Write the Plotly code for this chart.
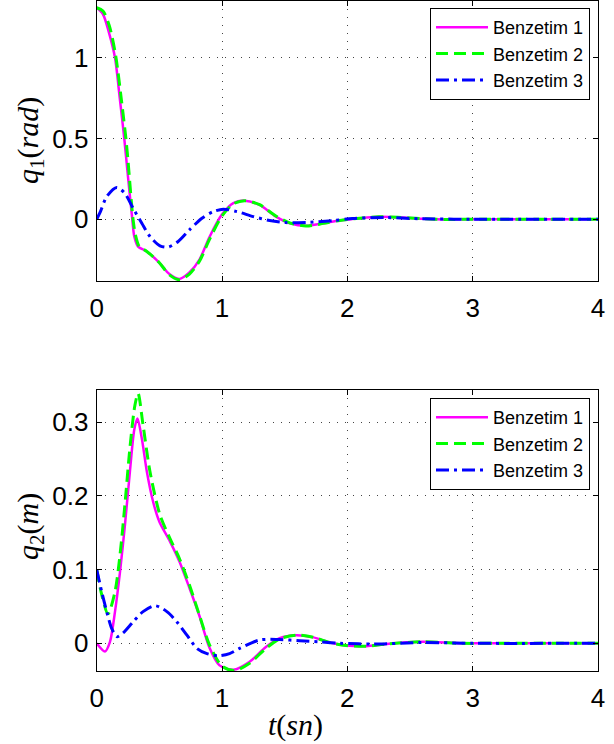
import plotly.graph_objects as go

# q1 (top panel)
t1_b1 = [0, 0.05, 0.1, 0.146, 0.183, 0.22, 0.25, 0.284, 0.3, 0.33, 0.4, 0.5, 0.58, 0.66, 0.74, 0.82,
         0.9, 1.0, 1.09, 1.18, 1.3, 1.43, 1.54, 1.67, 1.81, 1.94, 2.1, 2.25, 2.4, 2.6, 2.8, 3.0, 3.5, 4.0]
q1_b1 = [1.31, 1.27, 1.15, 1.0, 0.757, 0.5, 0.26, 0.0, -0.107, -0.17, -0.20, -0.27, -0.34, -0.37, -0.33, -0.25,
         -0.11, 0.03, 0.10, 0.115, 0.088, 0.016, -0.025, -0.041, -0.025, -0.008, 0.006, 0.015, 0.012, 0.003, -0.002, 0.0, 0.0, 0.0]

t1_b2 = [0, 0.05, 0.1, 0.15, 0.2, 0.233, 0.25, 0.29, 0.31, 0.34, 0.4, 0.5, 0.58, 0.66, 0.74, 0.82,
         0.9, 1.0, 1.09, 1.18, 1.3, 1.43, 1.54, 1.67, 1.81, 1.94, 2.1, 2.25, 2.4, 2.6, 2.8, 3.0, 3.5, 4.0]
q1_b2 = [1.31, 1.29, 1.20, 1.02, 0.72, 0.5, 0.36, 0.0, -0.10, -0.17, -0.20, -0.27, -0.345, -0.375, -0.34, -0.26,
         -0.125, 0.02, 0.095, 0.115, 0.09, 0.02, -0.023, -0.042, -0.026, -0.008, 0.006, 0.015, 0.012, 0.003, -0.002, 0.0, 0.0, 0.0]

t1_b3 = [0, 0.026, 0.08, 0.16, 0.225, 0.29, 0.36, 0.425, 0.505, 0.57, 0.65, 0.74, 0.84, 0.93, 1.01,
         1.12, 1.25, 1.38, 1.51, 1.70, 1.885, 2.04, 2.31, 2.6, 3.0, 4.0]
q1_b3 = [0, 0.04, 0.14, 0.197, 0.16, 0.068, -0.025, -0.107, -0.165, -0.173, -0.138, -0.066, 0.006, 0.047, 0.062,
         0.047, 0.016, -0.008, -0.021, -0.019, -0.009, 0.004, 0.01, 0.002, 0.0, 0.0]

# q2 (bottom panel)
t2_b1 = [0, 0.066, 0.106, 0.146, 0.186, 0.225, 0.265, 0.30, 0.325, 0.36, 0.40, 0.45, 0.50, 0.585, 0.66, 0.74,
         0.82, 0.90, 0.98, 1.09, 1.22, 1.35, 1.46, 1.59, 1.73, 1.86, 1.99, 2.15, 2.31, 2.6, 2.9, 3.2, 4.0]
q2_b1 = [0, -0.011, 0.002, 0.043, 0.097, 0.16, 0.233, 0.29, 0.305, 0.278, 0.233, 0.192, 0.165, 0.138, 0.111, 0.075,
         0.037, -0.006, -0.03, -0.036, -0.025, -0.005, 0.007, 0.011, 0.008, 0.001, -0.003, -0.004, -0.001, 0.002, 0.0, 0.0, 0.0]

t2_b2 = [0, 0.04, 0.09, 0.146, 0.186, 0.225, 0.265, 0.305, 0.33, 0.37, 0.425, 0.505, 0.585, 0.66, 0.74, 0.82,
         0.90, 1.0, 1.1, 1.22, 1.35, 1.46, 1.6, 1.73, 1.86, 1.99, 2.15, 2.31, 2.6, 2.9, 3.2, 4.0]
q2_b2 = [0.1, 0.066, 0.04, 0.07, 0.12, 0.188, 0.265, 0.323, 0.339, 0.296, 0.233, 0.174, 0.142, 0.115, 0.079, 0.038,
         -0.002, -0.031, -0.037, -0.027, -0.007, 0.006, 0.011, 0.008, 0.001, -0.003, -0.004, -0.001, 0.002, 0.0, 0.0, 0.0]

t2_b3 = [0, 0.04, 0.08, 0.12, 0.16, 0.21, 0.29, 0.37, 0.465, 0.56, 0.64, 0.72, 0.80, 0.88, 0.97, 1.06,
         1.14, 1.30, 1.46, 1.62, 1.78, 1.94, 2.2, 2.6, 3.0, 4.0]
q2_b3 = [0.1, 0.07, 0.043, 0.02, 0.009, 0.014, 0.029, 0.043, 0.051, 0.043, 0.029, 0.011, -0.007, -0.014, -0.017, -0.014,
         -0.007, 0.0045, 0.005, 0.0035, 0.002, 0.0, -0.001, 0.001, 0.0, 0.0]

names = ["Benzetim 1", "Benzetim 2", "Benzetim 3"]
colors = ["#ff00ff", "#00ff00", "#0000ff"]
dashes = ["solid", "12px,6px", "13px,5px,3px,5px"]
widths = [2.5, 3, 3]

W, H = 614, 744
fig = go.Figure(layout=dict(width=W, height=H))

panels = [
    ((t1_b1, q1_b1), (t1_b2, q1_b2), (t1_b3, q1_b3)),
    ((t2_b1, q2_b1), (t2_b2, q2_b2), (t2_b3, q2_b3)),
]
for p, series in enumerate(panels):
    for i, (tt, qq) in enumerate(series):
        fig.add_trace(go.Scatter(
            x=tt, y=qq, mode="lines", name=names[i],
            line=dict(color=colors[i], width=widths[i], dash=dashes[i], shape="spline", smoothing=0.8),
            xaxis="x" if p == 0 else "x2",
            yaxis="y" if p == 0 else "y2",
            legend="legend" if p == 0 else "legend2",
        ))

tickfont = dict(family="Liberation Sans, Arial", size=26, color="black")
axis_common = dict(
    showline=True, linecolor="black", linewidth=1, mirror="ticks",
    ticks="inside", ticklen=5, tickcolor="black",
    showgrid=True, gridcolor="#444", gridwidth=1, griddash="1px,7px",
    zeroline=False, tickfont=tickfont, automargin=False,
)
xdom = [96.7 / W, 598 / W]

legend_common = dict(
    xanchor="right", yanchor="top", x=590 / W,
    bgcolor="white", bordercolor="black", borderwidth=1,
    font=dict(family="Liberation Sans, Arial", size=18, color="black"),
    tracegroupgap=0, itemwidth=52,
)

fig.update_layout(
    margin=dict(l=0, r=0, t=0, b=0, autoexpand=False),
    plot_bgcolor="white", paper_bgcolor="white",
    xaxis=dict(axis_common, domain=xdom, range=[0, 4], tickvals=[0, 1, 2, 3, 4],
               anchor="y", ticklabelstandoff=4),
    yaxis=dict(axis_common, domain=[1 - 281 / H, 1 - 1 / H], range=[-0.383, 1.352],
               tickvals=[0, 0.5, 1], ticktext=["0", "0.5", "1"], anchor="x", ticklabelstandoff=2),
    xaxis2=dict(axis_common, domain=xdom, range=[0, 4], tickvals=[0, 1, 2, 3, 4],
                anchor="y2", ticklabelstandoff=4),
    yaxis2=dict(axis_common, domain=[1 - 671 / H, 1 - 390 / H], range=[-0.0376, 0.3437],
                tickvals=[0, 0.1, 0.2, 0.3], ticktext=["0", "0.1", "0.2", "0.3"], anchor="x2",
                ticklabelstandoff=2),
    legend=dict(legend_common, y=1 - 8 / H),
    legend2=dict(legend_common, y=1 - 398 / H),
)

labfont = dict(family="Liberation Serif, Times New Roman", size=30, color="black")
lab = dict(xref="paper", yref="paper", showarrow=False, font=labfont, xanchor="center", yanchor="middle")
fig.add_annotation(lab, text="<i>q</i><sub>1</sub>(<i>rad</i>)", x=30 / W, y=1 - 141 / H, textangle=-90)
fig.add_annotation(lab, text="<i>q</i><sub>2</sub>(<i>m</i>)", x=30 / W, y=1 - 527 / H, textangle=-90)
fig.add_annotation(lab, text="<i>t</i>(<i>sn</i>)", x=295 / W, y=1 - 725 / H)

fig.write_html("out.html", config={"displayModeBar": False},
               post_script="document.body.style.margin='0px';")
